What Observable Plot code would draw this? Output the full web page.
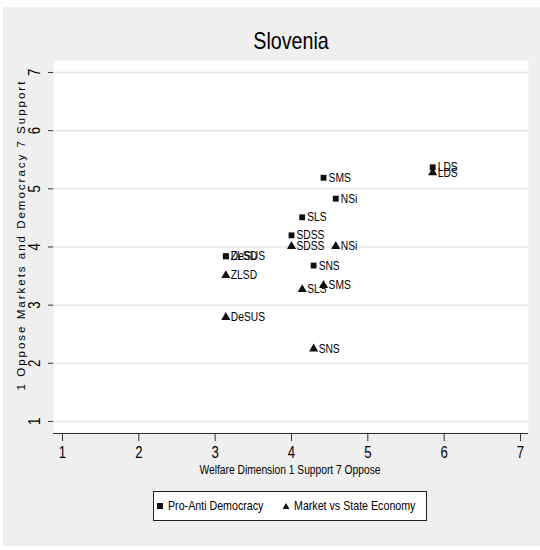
<!DOCTYPE html>
<html>
<head>
<meta charset="utf-8">
<script src="https://cdn.jsdelivr.net/npm/d3@7"></script>
<script src="https://cdn.jsdelivr.net/npm/@observablehq/plot@0.6"></script>
<style>
  html, body { margin: 0; padding: 0; background: #ffffff; }
  #wrap { position: relative; width: 540px; height: 550px; overflow: hidden;
          font-family: "Liberation Sans", Arial, sans-serif; color: #000; }
  #panel { position: absolute; left: 3px; top: 7px; width: 537px; height: 539px; background: #efefef; }
  #chart { position: absolute; left: 0; top: 0; }
  .narrow { position: absolute; white-space: nowrap; transform-origin: 0 0; }
  #title { left: 291px; top: 27px; font-size: 24px; line-height: 28px; transform: translateX(-50%) scaleX(0.82); transform-origin: 50% 0; }
  #ytitle { position: absolute; left: 21px; top: 235px; transform: translate(-50%, -50%) rotate(-90deg);
            white-space: nowrap; font-size: 11.5px; letter-spacing: 2px; }
  #xtitle { left: 290px; top: 463px; font-size: 12.5px; line-height: 15px; transform: translateX(-50%) scaleX(0.82); transform-origin: 50% 0; }
  #legend { position: absolute; left: 153px; top: 491px; width: 272px; height: 28px; border: 1px solid #222; background: #fff; font-size: 13px; }
  #legend svg { position: absolute; display: block; }
  #legend span { position: absolute; top: 6px; line-height: 16px; white-space: nowrap; transform: scaleX(0.82); transform-origin: 0 0; }
</style>
</head>
<body>
<div id="wrap">
  <div id="panel"></div>
  <div id="chart"></div>
  <div id="title" class="narrow">Slovenia</div>
  <div id="ytitle">1 Oppose Markets and Democracy 7 Support</div>
  <div id="xtitle" class="narrow">Welfare Dimension 1 Support 7 Oppose</div>
  <div id="legend"></div>
</div>
<script>
// ---- data ----
const parties   = ["LDS", "SMS", "NSi", "SLS", "SDSS", "ZLSD", "DeSUS", "SNS"];
const welfare   = [5.85, 4.42, 4.58, 4.14, 4.00, 3.14, 3.14, 4.29];
const democracy = [5.37, 5.19, 4.83, 4.51, 4.20, 3.84, 3.84, 3.68];
const market    = [5.28, 3.34, 4.01, 3.27, 4.01, 3.51, 2.79, 2.25];
const seriesNames = ["Pro-Anti Democracy", "Market vs State Economy"];
const xTicks = [1, 2, 3, 4, 5, 6, 7];
const yTicks = [1, 2, 3, 4, 5, 6, 7];
const xDomain = [0.882, 7.105];
const yDomain = [0.81, 7.206];

const rows = [];
parties.forEach((p, i) => {
  rows.push({party: p, x: welfare[i], y: democracy[i], series: seriesNames[0]});
  rows.push({party: p, x: welfare[i], y: market[i], series: seriesNames[1]});
});
const sq = rows.filter(d => d.series === seriesNames[0]);
const tri = rows.filter(d => d.series === seriesNames[1]);

const ink = "#111";

const chart = Plot.plot({
  width: 540,
  height: 550,
  marginLeft: 53,
  marginRight: 12,
  marginTop: 60,
  marginBottom: 118,
  style: {background: "transparent", fontFamily: '"Liberation Sans", Arial, sans-serif', color: "#000"},
  x: {domain: xDomain},
  y: {domain: yDomain},
  marks: [
    Plot.frame({fill: "white", stroke: null}),
    Plot.gridY(yTicks, {stroke: "#e4e4e4", strokeOpacity: 1, strokeWidth: 1.5}),
    Plot.ruleY([yDomain[0]], {stroke: "#333", strokeWidth: 1.2, dy: 1}),
    Plot.axisX(xTicks, {tickSize: 8, tickPadding: 5, fontSize: 16, stroke: "#333", dy: 1, tickFormat: d => String(d), label: null}),
    Plot.axisY(yTicks, {tickSize: 5, stroke: "#333", tickFormat: () => "", label: null}),
    Plot.text(yTicks, {y: d => d, text: d => String(d), frameAnchor: "left", dx: -19, rotate: -90,
                       textAnchor: "middle", lineAnchor: "middle", fontSize: 16, fill: "#000"}),
    Plot.dot(sq, {x: "x", y: "y", symbol: "square", r: 3.3, fill: ink, stroke: null}),
    Plot.dot(tri, {x: "x", y: "y", symbol: "triangle", r: 3.4, fill: ink, stroke: null}),
    Plot.text(rows, {x: "x", y: "y", text: "party", dx: 5, textAnchor: "start", lineAnchor: "middle",
                     fontSize: 12.5, fill: "#000"})
  ]
});
document.getElementById("chart").appendChild(chart);

// narrow the SVG texts (the reference uses an Arial Narrow-like face)
chart.querySelectorAll("text").forEach(t => {
  const x = parseFloat(t.getAttribute("x")) || 0;
  const y = parseFloat(t.getAttribute("y")) || 0;
  const tr = t.getAttribute("transform") || "";
  t.setAttribute("transform", `${tr} translate(${x},${y}) scale(0.82,1) translate(${-x},${-y})`);
});

// legend
const leg = document.getElementById("legend");
const legendLayout = [
  {sym: '<svg width="8" height="8" style="left:2px;top:10px"><rect x="1" y="1" width="6" height="6" fill="#111"/></svg>', textLeft: 14},
  {sym: '<svg width="8" height="8" style="left:128px;top:10px"><path d="M4,1 L7.5,7 L0.5,7 Z" fill="#111"/></svg>', textLeft: 140}
];
seriesNames.forEach((name, i) => {
  leg.insertAdjacentHTML("beforeend", legendLayout[i].sym +
    `<span style="left:${legendLayout[i].textLeft}px">${name}</span>`);
});
</script>
</body>
</html>
